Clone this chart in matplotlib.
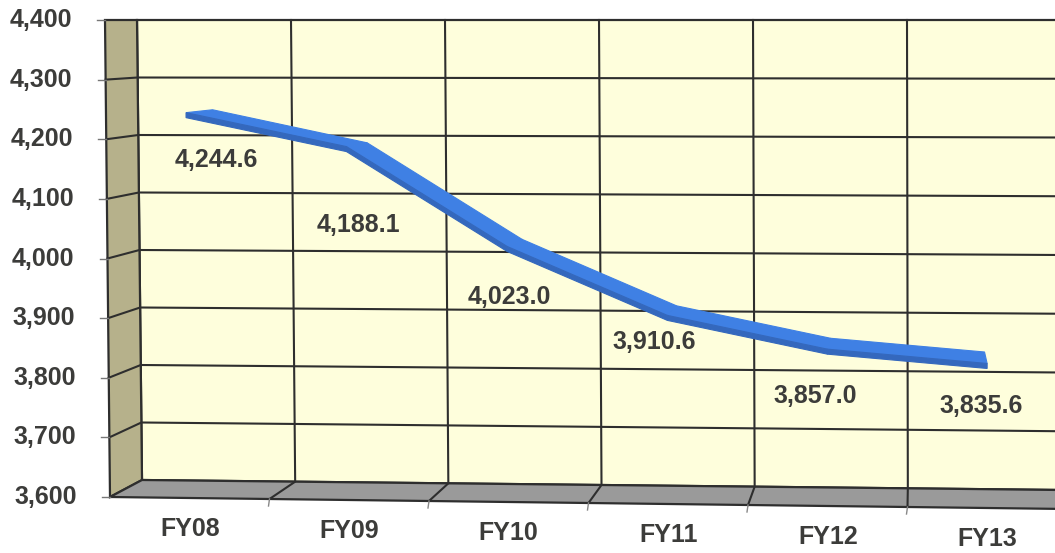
import numpy as np
import matplotlib
matplotlib.use("Agg")
import matplotlib.pyplot as plt
from matplotlib.patches import Polygon

# headcount by fiscal year
years = ["FY08", "FY09", "FY10", "FY11", "FY12", "FY13"]
values = [4244.6, 4188.1, 4023.0, 3910.6, 3857.0, 3835.6]
value_ticks = [3600, 3700, 3800, 3900, 4000, 4100, 4200, 4300, 4400]

# where each value label sits relative to its point (screen px)
label_dx = [30, 12, 2, -13, -12, -6]
label_dy = [47, 78, 51, 27, 47, 43]

vmin, vmax = value_ticks[0], value_ticks[-1]
n = len(years)

# corners of the plot box on screen: front plane and back wall
FRONT = dict(tl=(105, 20), bl=(110, 497), tr=(1067, 17), br=(1067, 509))
BACK = dict(tl=(137, 20), bl=(142, 480), tr=(1061, 20), br=(1061, 490))


def plane_point(plane, u, w):
    tl, bl, tr, br = (np.array(plane[k], float) for k in ("tl", "bl", "tr", "br"))
    left = bl + w * (tl - bl)
    right = br + w * (tr - br)
    return left + u * (right - left)


def project(c, v, t=0.0):
    """category position c, value v, depth t (0 front, 1 back) -> screen"""
    u = (c + 0.5) / n
    w = (v - vmin) / (vmax - vmin)
    f = plane_point(FRONT, u, w)
    b = plane_point(BACK, u, w)
    return f + t * (b - f)


TEXT = "#3c3c3a"
EDGE = "#2e2e2e"
FONT = dict(family="Liberation Sans", weight="bold", color=TEXT, fontsize=18)

fig = plt.figure(figsize=(10.55, 5.53), dpi=100)
ax = fig.add_axes([0, 0, 1, 1])
ax.set_xlim(0, 1055)
ax.set_ylim(553, 0)
ax.axis("off")

c0, c1 = -0.5, n - 0.5

# back wall
wall = [project(c0, vmin, 1), project(c1, vmin, 1), project(c1, vmax, 1), project(c0, vmax, 1)]
ax.add_patch(Polygon(wall, closed=True, facecolor="#fefedc", edgecolor=EDGE, lw=1.6, zorder=1))

# side wall
side = [project(c0, vmin, 0), project(c0, vmin, 1), project(c0, vmax, 1), project(c0, vmax, 0)]
ax.add_patch(Polygon(side, closed=True, facecolor="#b6b18b", edgecolor=EDGE, lw=1.6, zorder=1))

# floor
floor = [project(c0, vmin, 0), project(c1, vmin, 0), project(c1, vmin, 1), project(c0, vmin, 1)]
ax.add_patch(Polygon(floor, closed=True, facecolor="#9a9a9a", edgecolor=EDGE, lw=1.6, zorder=1))

# horizontal gridlines on side wall and back wall
for v in value_ticks[1:-1]:
    pts = np.array([project(c0, v, 0), project(c0, v, 1), project(c1, v, 1)])
    ax.plot(pts[:, 0], pts[:, 1], color=EDGE, lw=1.5, zorder=2)

# vertical gridlines on the back wall and their traces across the floor
for k in range(1, n):
    c = k - 0.5
    pts = np.array([project(c, vmax, 1), project(c, vmin, 1), project(c, vmin, 0)])
    ax.plot(pts[:, 0], pts[:, 1], color=EDGE, lw=1.5, zorder=2)
    a = project(c, vmin, 0)
    ax.plot([a[0], a[0] - 1], [a[1], a[1] + 7], color="#888888", lw=1.0, zorder=2)

# value axis ticks and labels
for v in value_ticks:
    p = project(c0, v, 0)
    ax.plot([p[0] - 8, p[0]], [p[1], p[1]], color="#777777", lw=1.0, zorder=2)
    ax.text(p[0] - 33, p[1], f"{v:,}", ha="right", va="center", **FONT)

# category labels
for i, name in enumerate(years):
    p = project(i, vmin, 0)
    ax.text(p[0], p[1] + 31, name, ha="center", va="center", **FONT)

# 3-D ribbon: top face between front and back paths, then front face
front = np.array([project(i, v, 0.0) for i, v in enumerate(values)])
back = np.array([project(i, v, 0.92) for i, v in enumerate(values)])
thick = np.array([0, 5])
for i in range(n - 1):
    top = [front[i], front[i + 1], back[i + 1], back[i]]
    ax.add_patch(Polygon(top, closed=True, facecolor="#3f80e4", edgecolor="#3f80e4",
                         lw=0.8, zorder=3))
for i in range(n - 1):
    face = [front[i], front[i + 1], front[i + 1] + thick, front[i] + thick]
    ax.add_patch(Polygon(face, closed=True, facecolor="#3468bd", edgecolor="#3468bd",
                         lw=0.8, zorder=4))

# value labels
for i, v in enumerate(values):
    p = project(i, v, 0)
    ax.text(p[0] + label_dx[i], p[1] + label_dy[i], f"{v:,.1f}", ha="center", va="center",
            zorder=5, **FONT)

fig.savefig("out.png", dpi=100, facecolor="white")
